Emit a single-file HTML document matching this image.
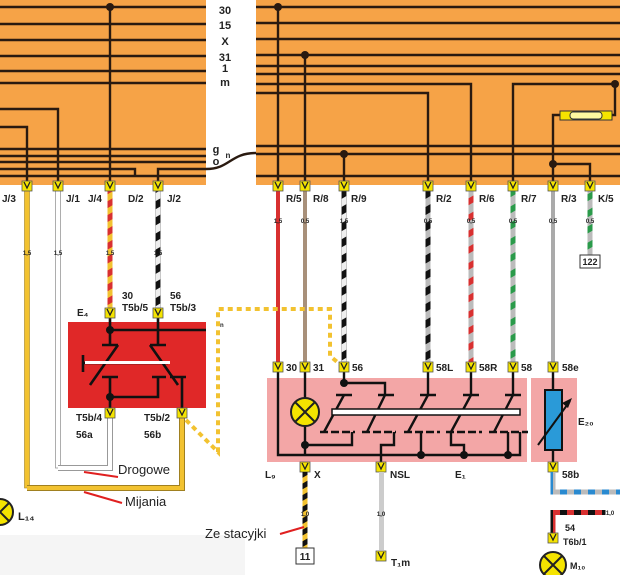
<!DOCTYPE html>
<html><head><meta charset="utf-8"><style>
body{margin:0;background:#fff}
svg{display:block}
text{font-family:"Liberation Sans",sans-serif;font-weight:bold;fill:#222}
</style></head><body>
<svg width="620" height="575" viewBox="0 0 620 575" xmlns="http://www.w3.org/2000/svg">
<defs>
<pattern id="ry" width="6" height="12" patternUnits="userSpaceOnUse" patternTransform="rotate(-30)"><rect width="6" height="12" fill="#f2c230"/><rect width="6" height="6" fill="#d83030"/></pattern>
<pattern id="bw" width="6" height="14" patternUnits="userSpaceOnUse" patternTransform="rotate(-30)"><rect width="6" height="14" fill="#eee"/><rect width="6" height="7" fill="#111"/></pattern>
<pattern id="bg" width="6" height="14" patternUnits="userSpaceOnUse" patternTransform="rotate(-30)"><rect width="6" height="14" fill="#bbb"/><rect width="6" height="7" fill="#111"/></pattern>
<pattern id="rg" width="6" height="14" patternUnits="userSpaceOnUse" patternTransform="rotate(-30)"><rect width="6" height="14" fill="#bbb"/><rect width="6" height="6" fill="#d83030"/></pattern>
<pattern id="gg" width="6" height="14" patternUnits="userSpaceOnUse" patternTransform="rotate(-30)"><rect width="6" height="14" fill="#bbb"/><rect width="6" height="6" fill="#2a9a4a"/></pattern>
<pattern id="by" width="6" height="10" patternUnits="userSpaceOnUse" patternTransform="rotate(-30)"><rect width="6" height="10" fill="#f2c230"/><rect width="6" height="5" fill="#111"/></pattern>
<pattern id="bl" width="14" height="6" patternUnits="userSpaceOnUse"><rect width="14" height="6" fill="#bbb"/><rect width="7" height="6" fill="#2a8ad0"/></pattern>
<pattern id="rb" width="14" height="6" patternUnits="userSpaceOnUse"><rect width="14" height="6" fill="#d83030"/><rect width="7" height="6" fill="#111"/></pattern>
<g id="con"><rect x="-5" y="-5" width="10" height="10" fill="#f5e400" stroke="#555" stroke-width="0.8"/><path d="M-3,-4 L0,2 L3,-4" fill="none" stroke="#222" stroke-width="1.3"/></g>
</defs>
<rect x="0" y="535" width="245" height="40" fill="#f5f5f5"/>
<!-- orange blocks -->
<rect x="0" y="0" width="206" height="185" fill="#f6a347"/>
<rect x="256" y="0" width="364" height="185" fill="#f6a347"/>
<g stroke="#2a1a10" stroke-width="2.4" fill="none">
<path d="M0 7H206M0 24H206M0 40H206M0 56H206M0 71H206M0 83H206"/>
<path d="M0 109H58V182M0 127H27V182M0 149H206M0 156H206M0 162H206M0 169H135V176M0 176H206"/>
<path d="M110 7V182M158 182V169H206 C230 169 230 153 256 153"/>
<path d="M256 7H620M256 23H620M256 39H620M256 55H620M256 66H620M256 74H620M256 93H428V182M256 84H471V182M513 182V84H615V115H612"/>
<path d="M256 146H620M256 154H620M256 176H620"/>
<path d="M278 7V182M305 55V182M344 154V182M553 182V115H560M553 164H590V182"/>
</g>
<rect x="560" y="111" width="52" height="9" fill="#f5e400" stroke="#333" stroke-width="1"/>
<rect x="570" y="112" width="32" height="7" rx="3" fill="#fff8a0" stroke="#333" stroke-width="1"/>
<g fill="#2a1a10"><circle cx="110" cy="7" r="4"/><circle cx="278" cy="7" r="4"/><circle cx="305" cy="55" r="4"/><circle cx="344" cy="154" r="4"/><circle cx="615" cy="84" r="4"/><circle cx="553" cy="164" r="4"/></g>
<g font-size="11" text-anchor="middle"><text x="225" y="14">30</text><text x="225" y="29">15</text><text x="225" y="45">X</text><text x="225" y="61">31</text><text x="225" y="72">1</text><text x="225" y="86">m</text></g>
<text x="216" y="153" font-size="11" text-anchor="middle">g</text><text x="216" y="165" font-size="11" text-anchor="middle">o</text><text x="228" y="158" font-size="8" text-anchor="middle">n</text>
<!-- top wires -->
<rect x="24.5" y="190" width="5" height="298" fill="#f2c230" stroke="#a08020" stroke-width="0.6"/>
<rect x="55.5" y="190" width="5" height="278" fill="#fff" stroke="#999" stroke-width="0.8"/>
<rect x="107.5" y="190" width="5" height="118" fill="url(#ry)"/>
<rect x="155.5" y="190" width="5" height="118" fill="url(#bw)" stroke="#999" stroke-width="0.5"/>
<rect x="276" y="190" width="4" height="172" fill="#d83030"/>
<rect x="303" y="190" width="4" height="172" fill="#a8907a"/>
<rect x="341.5" y="190" width="5" height="172" fill="url(#bw)" stroke="#999" stroke-width="0.5"/>
<rect x="425.5" y="190" width="5" height="172" fill="url(#bg)"/>
<rect x="468.5" y="190" width="5" height="172" fill="url(#rg)"/>
<rect x="510.5" y="190" width="5" height="172" fill="url(#gg)"/>
<rect x="551" y="190" width="4" height="172" fill="#aaa"/>
<rect x="587.5" y="190" width="5" height="65" fill="url(#gg)"/>
<rect x="580" y="255" width="20" height="13" fill="#fff" stroke="#333"/><text x="590" y="265" font-size="9" text-anchor="middle">122</text>
<g><use href="#con" x="27" y="186"/><use href="#con" x="58" y="186"/><use href="#con" x="110" y="186"/><use href="#con" x="158" y="186"/>
<use href="#con" x="278" y="186"/><use href="#con" x="305" y="186"/><use href="#con" x="344" y="186"/><use href="#con" x="428" y="186"/><use href="#con" x="471" y="186"/><use href="#con" x="513" y="186"/><use href="#con" x="553" y="186"/><use href="#con" x="590" y="186"/></g>
<g font-size="10"><text x="2" y="202">J/3</text><text x="66" y="202">J/1</text><text x="88" y="202">J/4</text><text x="128" y="202">D/2</text><text x="167" y="202">J/2</text>
<text x="286" y="202">R/5</text><text x="313" y="202">R/8</text><text x="351" y="202">R/9</text><text x="436" y="202">R/2</text><text x="479" y="202">R/6</text><text x="521" y="202">R/7</text><text x="561" y="202">R/3</text><text x="598" y="202">K/5</text></g>
<g font-size="6" text-anchor="middle"><text x="27" y="255">1,5</text><text x="58" y="255">1,5</text><text x="110" y="255">1,5</text><text x="158" y="255">1,5</text>
<text x="278" y="223">1,5</text><text x="305" y="223">0,5</text><text x="344" y="223">1,5</text><text x="428" y="223">0,5</text><text x="471" y="223">0,5</text><text x="513" y="223">0,5</text><text x="553" y="223">0,5</text><text x="590" y="223">0,5</text></g>
<!-- left loops -->
<path d="M27 488H182V418" fill="none" stroke="#a08020" stroke-width="6"/><path d="M27 488H182V418" fill="none" stroke="#f2c230" stroke-width="4"/>
<path d="M58 468H110V418" fill="none" stroke="#999" stroke-width="6"/><path d="M58 468H110V418" fill="none" stroke="#fff" stroke-width="4"/>
<path d="M84 472L118 477M84 492L122 503" stroke="#e02020" stroke-width="2"/>
<text x="118" y="474" font-size="13" font-weight="normal" style="font-weight:normal" fill="#333">Drogowe</text>
<text x="125" y="506" font-size="13" style="font-weight:normal" fill="#333">Mijania</text>
<!-- E4 -->
<rect x="68" y="322" width="138" height="86" fill="#e02828"/>
<g stroke="#111" stroke-width="2.6" fill="none">
<path d="M110 315V330H206M110 330V345M158 315V345M102 345H118M150 345H166"/>
<path d="M90 385L118 345M150 345L178 385M84 363H168M83 355V372"/>
<path d="M102 377H118M152 377H166M170 377H186M110 377V408M110 397H158V377M182 377V408"/>
</g>
<rect x="85" y="361" width="85" height="3" fill="#fff"/>
<circle cx="110" cy="330" r="4" fill="#111"/><circle cx="110" cy="397" r="4" fill="#111"/>
<use href="#con" x="110" y="313"/><use href="#con" x="158" y="313"/><use href="#con" x="110" y="413"/><use href="#con" x="182" y="413"/>
<g font-size="10"><text x="122" y="299">30</text><text x="122" y="311">T5b/5</text><text x="170" y="299">56</text><text x="170" y="311">T5b/3</text><text x="77" y="316">E₄</text>
<text x="76" y="421">T5b/4</text><text x="76" y="438">56a</text><text x="144" y="421">T5b/2</text><text x="144" y="438">56b</text></g>
<text x="220" y="327" font-size="6">n</text>
<path d="M186 420L218 452V309H330V356L342 366" fill="none" stroke="#f2c230" stroke-width="4" stroke-dasharray="5 4"/>
<!-- L14 -->
<circle cx="0" cy="512" r="13" fill="#f5e400" stroke="#222" stroke-width="2"/><path d="M-9 503L9 521M9 503L-9 521" stroke="#222" stroke-width="2"/>
<text x="18" y="520" font-size="11">L₁₄</text>
<!-- E1 -->
<rect x="267" y="378" width="260" height="84" fill="#f3a6a6"/>
<rect x="531" y="378" width="46" height="84" fill="#f3a6a6"/>
<g stroke="#111" stroke-width="2.4" fill="none">
<path d="M278 370V455H520V432M305 370V398M305 426V455M344 370V383H385V395M428 370V395M471 370V395M513 370V395"/>
<path d="M336 395H352M378 395H394M420 395H436M463 395H479M505 395H521"/>
<path d="M324 432L344 395M367 432L385 395M408 432L428 395M451 432L471 395M494 432L513 395"/>
<path d="M320 432H355M362 432H396M404 432H440M446 432H482M489 432H528" stroke-dasharray="8 3"/>
<path d="M305 445H352V432M381 462V445H394V432M421 432V455M451 432V445H464V455M508 432V455"/>
<path d="M553 370V390M553 450V462"/>
</g>
<rect x="332" y="409" width="188" height="6" fill="#fff" stroke="#111" stroke-width="1.5"/>
<g fill="#111"><circle cx="344" cy="383" r="4"/><circle cx="305" cy="445" r="4"/><circle cx="421" cy="455" r="4"/><circle cx="464" cy="455" r="4"/><circle cx="508" cy="455" r="4"/></g>
<circle cx="305" cy="412" r="14" fill="#f5e400" stroke="#222" stroke-width="2"/><path d="M295 402L315 422M315 402L295 422" stroke="#222" stroke-width="2"/>
<rect x="545" y="390" width="17" height="60" fill="#2a9ad8" stroke="#111" stroke-width="2"/>
<path d="M538 445L570 401" stroke="#111" stroke-width="2"/><path d="M572 398L562 403L568 408Z" fill="#111"/>
<g><use href="#con" x="278" y="367"/><use href="#con" x="305" y="367"/><use href="#con" x="344" y="367"/><use href="#con" x="428" y="367"/><use href="#con" x="471" y="367"/><use href="#con" x="513" y="367"/><use href="#con" x="553" y="367"/>
<use href="#con" x="305" y="467"/><use href="#con" x="381" y="467"/><use href="#con" x="553" y="467"/></g>
<g font-size="10"><text x="286" y="371">30</text><text x="313" y="371">31</text><text x="352" y="371">56</text><text x="436" y="371">58L</text><text x="479" y="371">58R</text><text x="521" y="371">58</text><text x="562" y="371">58e</text>
<text x="265" y="478">L₉</text><text x="314" y="478">X</text><text x="390" y="478">NSL</text><text x="455" y="478">E₁</text><text x="562" y="478">58b</text><text x="578" y="425">E₂₀</text></g>
<rect x="302.5" y="472" width="5" height="76" fill="url(#by)"/>
<rect x="296" y="548" width="18" height="16" fill="#fff" stroke="#333"/><text x="305" y="560" font-size="10" text-anchor="middle">11</text>
<rect x="379" y="472" width="5" height="78" fill="#ccc"/>
<use href="#con" x="381" y="556"/><text x="391" y="566" font-size="10">T₁m</text>
<g font-size="6" text-anchor="middle"><text x="305" y="516">1,0</text><text x="381" y="516">1,0</text><text x="610" y="515">1,0</text></g>
<path d="M280 534L304 527" stroke="#e02020" stroke-width="2"/>
<text x="205" y="538" font-size="13" style="font-weight:normal" fill="#333">Ze stacyjki</text>
<path d="M553 472V492H620" fill="none" stroke="url(#bl)" stroke-width="5"/>
<rect x="550.5" y="472" width="5" height="20" fill="url(#bl)"/>
<rect x="550.5" y="512" width="5" height="22" fill="url(#rb)"/>
<rect x="550.5" y="510" width="55" height="5" fill="url(#rb)"/>
<use href="#con" x="553" y="538"/>
<g font-size="9"><text x="565" y="531">54</text><text x="563" y="545">T6b/1</text><text x="570" y="569">M₁₀</text></g>
<circle cx="553" cy="565" r="13" fill="#f5e400" stroke="#222" stroke-width="2"/><path d="M544 556L562 574M562 556L544 574" stroke="#222" stroke-width="2"/>
</svg>
</body></html>
